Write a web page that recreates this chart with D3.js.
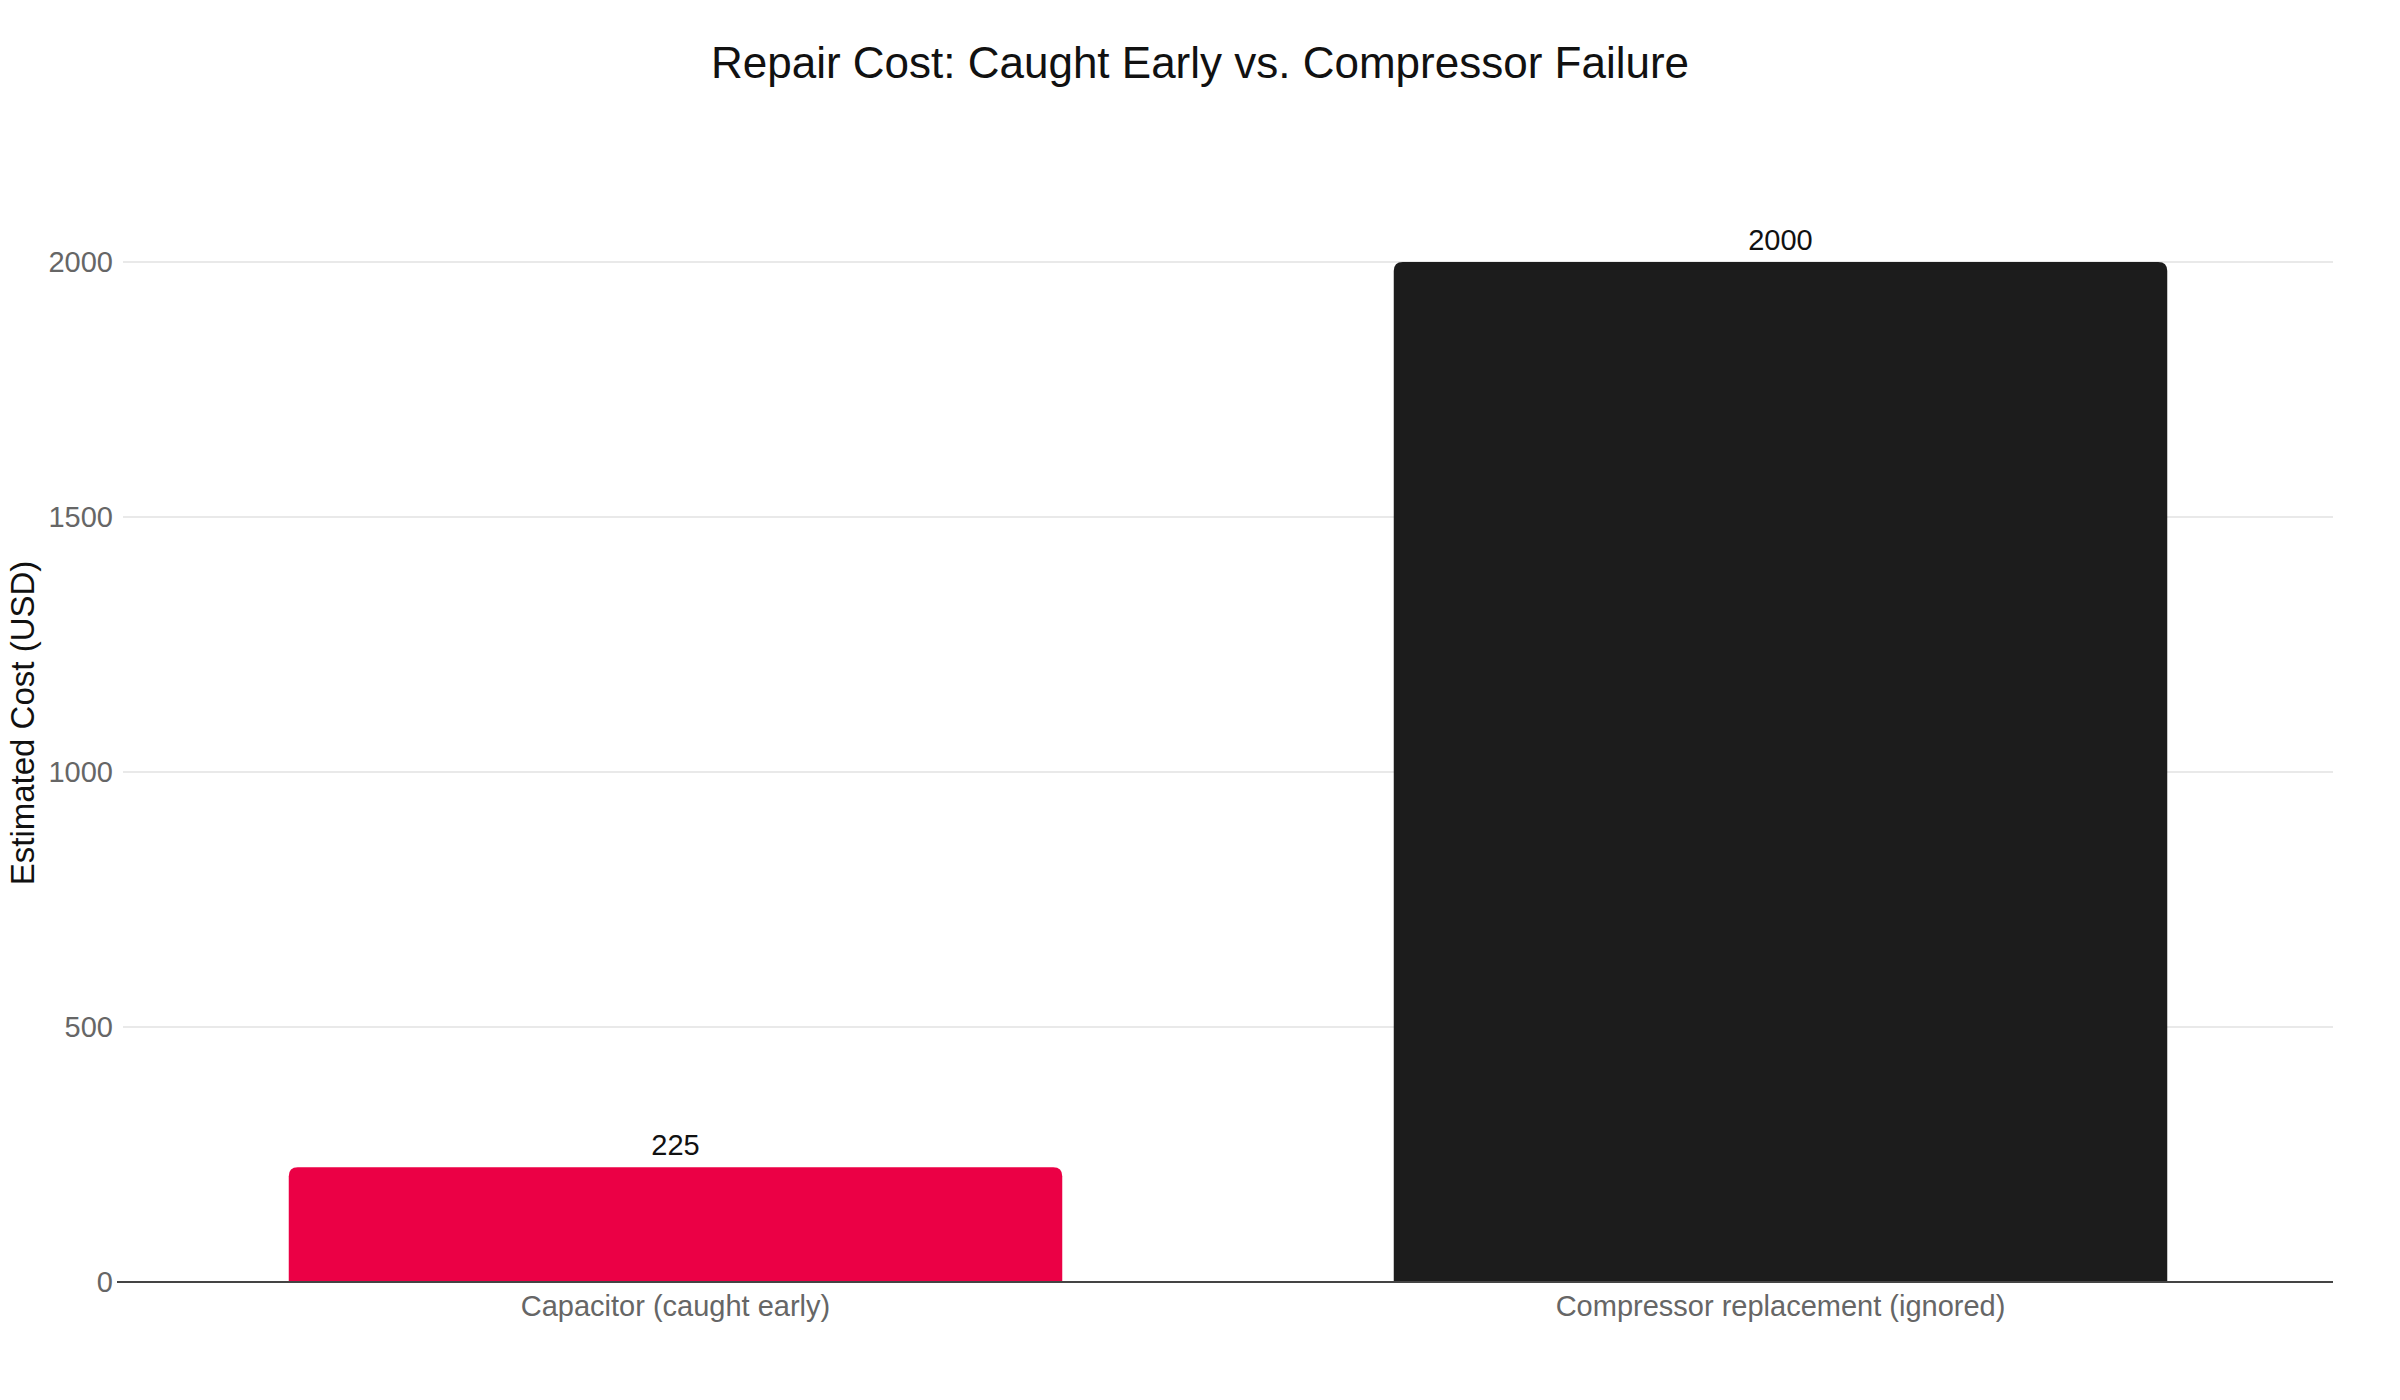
<!DOCTYPE html>
<html>
<head>
<meta charset="utf-8">
<script src="https://cdn.jsdelivr.net/npm/d3@7"></script>
<style>
  body { margin: 0; background: #fff; font-family: "Liberation Sans", Arial, sans-serif; }
</style>
</head>
<body>
<script>
// data
var categories = ['Capacitor (caught early)', 'Compressor replacement (ignored)']
var costs = [225, 2000]
var colors = ['#eb0045', '#1c1c1c']
var yTicks = [0, 500, 1000, 1500, 2000]

var width = 2400, height = 1400
var margin = { top: 262, right: 67, bottom: 118, left: 123 }
var innerW = width - margin.left - margin.right
var innerH = height - margin.top - margin.bottom

var svg = d3.select('body').append('svg')
  .attr('width', width)
  .attr('height', height)

svg.append('text')
  .attr('x', width / 2)
  .attr('y', 78)
  .attr('text-anchor', 'middle')
  .style('font-size', '44px')
  .style('fill', '#111')
  .text('Repair Cost: Caught Early vs. Compressor Failure')

var g = svg.append('g')
  .attr('transform', `translate(${margin.left}, ${margin.top})`)

var x = d3.scaleBand().domain(categories).range([0, innerW])
  .paddingInner(0.3).paddingOuter(0.15)
var y = d3.scaleLinear().domain([0, 2000]).range([innerH, 0])

// gridlines
g.selectAll('.grid')
  .data(yTicks.slice(1))
  .enter().append('line')
  .attr('x1', 0).attr('x2', innerW)
  .attr('y1', d => y(d)).attr('y2', d => y(d))
  .style('stroke', '#e2e2e2').style('stroke-width', 1.5)

// y tick labels
g.selectAll('.ytick')
  .data(yTicks)
  .enter().append('text')
  .attr('x', -10)
  .attr('y', d => y(d))
  .attr('dy', '0.35em')
  .attr('text-anchor', 'end')
  .style('font-size', '29px')
  .style('fill', '#666')
  .text(d => d)

// bars with rounded tops
var r = 9
g.selectAll('.bar')
  .data(costs)
  .enter().append('path')
  .attr('fill', (d, i) => colors[i])
  .attr('d', function(d, i) {
    var x0 = x(categories[i]), w = x.bandwidth(), y0 = y(d), b = y(0)
    return `M${x0},${b} V${y0 + r} Q${x0},${y0} ${x0 + r},${y0} H${x0 + w - r} Q${x0 + w},${y0} ${x0 + w},${y0 + r} V${b} Z`
  })

// value labels
g.selectAll('.val')
  .data(costs)
  .enter().append('text')
  .attr('x', (d, i) => x(categories[i]) + x.bandwidth() / 2)
  .attr('y', d => y(d) - 12)
  .attr('text-anchor', 'middle')
  .style('font-size', '29px')
  .style('fill', '#111')
  .text(d => d)

// baseline
g.append('line')
  .attr('x1', -6).attr('x2', innerW)
  .attr('y1', y(0)).attr('y2', y(0))
  .style('stroke', '#444').style('stroke-width', 2)

// x labels
g.selectAll('.xlab')
  .data(categories)
  .enter().append('text')
  .attr('x', d => x(d) + x.bandwidth() / 2)
  .attr('y', innerH + 24)
  .attr('dy', '0.35em')
  .attr('text-anchor', 'middle')
  .style('font-size', '29px')
  .style('fill', '#666')
  .text(d => d)

// y axis title
svg.append('text')
  .attr('transform', 'translate(34, 723) rotate(-90)')
  .attr('text-anchor', 'middle')
  .style('font-size', '33px')
  .style('fill', '#111')
  .text('Estimated Cost (USD)')
</script>
</body>
</html>
